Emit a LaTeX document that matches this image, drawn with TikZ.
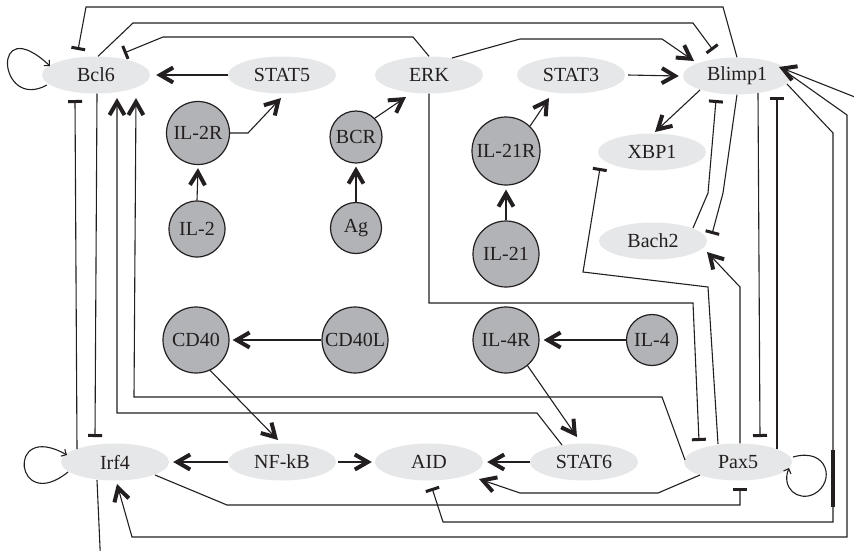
\documentclass[tikz,border=0pt]{standalone}
\usepackage{fontspec}
\setmainfont{Liberation Serif}
\usetikzlibrary{arrows.meta,calc,shapes.geometric}
\definecolor{ink}{HTML}{231F20}
\definecolor{genefill}{HTML}{E6E7E8}
\definecolor{recfill}{HTML}{B1B3B6}
\tikzset{
  gene/.style={ellipse, fill=genefill, minimum width=108pt, minimum height=37pt,
    inner sep=0pt, text=ink, font=\fontsize{20}{22}\selectfont},
  ligand/.style={circle, fill=recfill, draw=ink, line width=1.2pt, inner sep=0pt,
    text=ink, font=\fontsize{20}{22}\selectfont},
  wire/.style={draw=ink, line width=1.1pt, line join=miter},
  act/.style={wire, -{Straight Barb[length=13pt,width=15pt,line width=4pt]}},
  inh/.style={wire, -{Rectangle[length=3pt,width=14pt]}},
  selfact/.style={wire, -{Straight Barb[length=4pt,width=8pt]}},
}
\begin{document}
\begin{tikzpicture}[x=1pt,y=-1pt]
\useasboundingbox (0,0) rectangle (854,550);
\clip (0,0) rectangle (854,550);

% transcription factors and signalling molecules
\node[gene] (Bcl6)   at (96,75)   {Bcl6};
\node[gene] (STAT5)  at (282,75)  {STAT5};
\node[gene] (ERK)    at (429,75)  {ERK};
\node[gene] (STAT3)  at (571,75)  {STAT3};
\node[gene] (Blimp1) at (737,76)  {Blimp1};
\node[gene] (XBP1)   at (652,152) {XBP1};
\node[gene] (Bach2)  at (653,241) {Bach2};
\node[gene] (Irf4)   at (115,462) {Irf4};
\node[gene] (NFkB)   at (282,462) {NF-kB};
\node[gene] (AID)    at (429,462) {AID};
\node[gene] (STAT6)  at (584,462) {STAT6};
\node[gene] (Pax5)   at (738,462) {Pax5};

% receptors and ligands
\node[ligand, minimum size=63pt] (IL2R)  at (198,133) {IL-2R};
\node[ligand, minimum size=56pt] (IL2)   at (197,229) {IL-2};
\node[ligand, minimum size=52pt] (BCR)   at (356,137) {BCR};
\node[ligand, minimum size=51pt] (Ag)    at (356,228) {Ag};
\node[ligand, minimum size=68pt] (IL21R) at (506,151) {IL-21R};
\node[ligand, minimum size=66pt] (IL21)  at (506,254) {IL-21};
\node[ligand, minimum size=66pt] (CD40)  at (196,340) {CD40};
\node[ligand, minimum size=66pt] (CD40L) at (355,340) {CD40L};
\node[ligand, minimum size=66pt] (IL4R)  at (506,340) {IL-4R};
\node[ligand, minimum size=51pt] (IL4)   at (652,340) {IL-4};

% long routes along the top
\draw[inh] (Blimp1.north) -- (723,7) -- (86,7) -- ($(Bcl6)+(-18,-25)$);
\draw[inh] ($(Bcl6.north)+(2,0)$) -- (133,23) -- (693,23) -- ($(Blimp1)+(-24,-26)$);
\draw[inh] (ERK.north) -- (413,37) -- (163,37) -- ($(Bcl6)+(28,-22)$);
\draw[act] ($(ERK)+(23,-17)$) -- (520,39) -- (662,39) -- ($(Blimp1)+(-43,-15)$);

% upper signalling
\draw[act] (STAT5.west) -- ($(Bcl6.east)+(6,0)$);
\draw[act] ($(STAT3.east)+(3,0)$) -- ($(Blimp1.west)+(-4,0)$);
\draw[act] (IL2R.east) -- (248,133) -- ($(STAT5)+(-1,23)$);
\draw[act] (IL2.north) -- ($(IL2R.south)+(0,3)$);
\draw[act] (BCR.45) -- ($(ERK)+(-23,22)$);
\draw[act] (Ag.north) -- ($(BCR.south)+(0,3)$);
\draw[act] (IL21R.46) -- ($(STAT3)+(-22,23)$);
\draw[act] (IL21.north) -- ($(IL21R.south)+(0,4)$);
\draw[act] ($(Blimp1)+(-37,14)$) -- ($(XBP1)+(3,-20)$);

% Pax5 / Blimp1 / Bach2 / XBP1 block
\draw[inh] ($(Pax5)+(-20,-18)$) -- (708,287) -- (583,272) -- ($(XBP1)+(-52,16)$);
\draw[inh] (ERK.south) -- (429,303) -- (693,303) -- ($(Pax5)+(-39,-21)$);
\draw[act] ($(Pax5.north)+(2,0)$) -- (740,287) -- ($(Bach2)+(54,11)$);
\draw[inh] ($(Bach2)+(40,-13)$) -- (708,193) -- ($(Blimp1)+(-21,24)$);
\draw[inh] (Blimp1.south) -- (723,193) -- ($(Bach2)+(59,-7)$);
\draw[inh] ($(Blimp1)+(21,17)$) -- ($(Pax5)+(22,-25)$);
\draw[inh] ($(Pax5)+(39,-13)$) -- ($(Blimp1)+(40,21)$);

% outer routes on the right and bottom
\draw[inh] ($(Blimp1)+(50,8)$) -- (833,133) -- (833,522) -- (443,522) -- ($(AID)+(3,26)$);
\draw[line width=3.5pt, draw=ink] (833,450) -- (833,507);
\draw[act] ($(Blimp1)+(45,-7)$) -- (847,115) -- (847,537) -- (132,537) -- ($(Irf4)+(2,22)$);
\draw[act] ($(Irf4)+(-18,18)$) -- (101,570) -- (875,570) -- (875,105) -- ($(Blimp1)+(42,-9)$);
\draw[inh] ($(Irf4)+(40,13)$) -- (227,505) -- (740,505) -- ($(Pax5)+(2,26)$);
\draw[act] ($(Pax5)+(-38,13)$) -- (658,493) -- (520,493) -- ($(AID)+(50,17)$);

% columns between Bcl6 and Irf4
\draw[inh] ($(Irf4)+(-38,-13)$) -- ($(Bcl6)+(-21,25)$);
\draw[inh] ($(Bcl6.south)+(1,0)$) -- ($(Irf4)+(-20,-25)$);
\draw[act] ($(STAT6)+(-22,-17)$) -- (537,413) -- (117,413) -- ($(Bcl6)+(21,23)$);
\draw[act] ($(Pax5)+(-53,-2)$) -- (662,397) -- (134,397) -- ($(Bcl6)+(40,23)$);

% lower signalling
\draw[act] (CD40L.west) -- ($(CD40.east)+(3,0)$);
\draw[act] (IL4.west) -- ($(IL4R.east)+(4,0)$);
\draw[act] (CD40.-65) -- ($(NFkB)+(-4,-22)$);
\draw[act] (IL4R.-50) -- ($(STAT6)+(-7,-25)$);
\draw[act] (NFkB.west) -- ($(Irf4.east)+(4,0)$);
\draw[act] ($(NFkB.east)+(2,0)$) -- ($(AID.west)+(-3,0)$);
\draw[act] (STAT6.west) -- ($(AID.east)+(4,0)$);

% self-activation loops
\draw[selfact] ($(Bcl6)+(-49,10)$) .. controls (-2,112) and (-10,10) .. ($(Bcl6)+(-46,-9)$);
\draw[selfact] ($(Irf4)+(-47,10)$) .. controls (15,515) and (5,420) .. ($(Irf4)+(-48,-7)$);
\draw[selfact] ($(Pax5)+(55,-5)$) .. controls (828,447) and (836,482) .. (814,494)
  .. controls (798,502) and (781,488) .. ($(Pax5)+(51,6)$);
\end{tikzpicture}
\end{document}
